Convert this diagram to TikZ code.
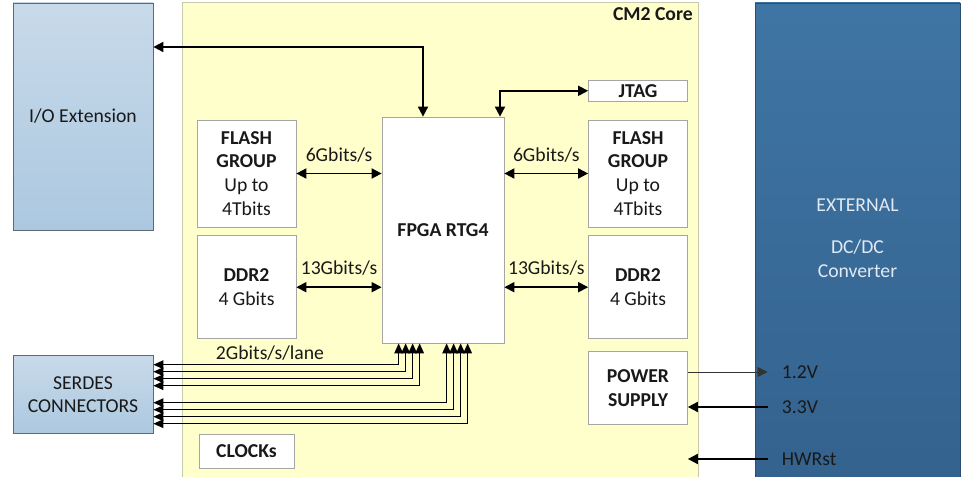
\documentclass[tikz,border=0pt]{standalone}
\usepackage{fontspec}
\setmainfont{Carlito}
\usepackage{xcolor}
\usetikzlibrary{arrows.meta, positioning, calc}
\definecolor{coreYellow}{RGB}{255,255,204}
\definecolor{coreEdge}{RGB}{200,200,170}
\definecolor{ioTop}{RGB}{200,218,234}
\definecolor{ioBottom}{RGB}{172,200,224}
\definecolor{ioEdge}{RGB}{95,105,115}
\definecolor{extTop}{RGB}{63,117,164}
\definecolor{extBottom}{RGB}{52,98,142}
\definecolor{extText}{RGB}{225,233,242}
\definecolor{boxEdge}{RGB}{165,165,165}
\definecolor{darkText}{RGB}{25,25,25}
\tikzset{
    every node/.style={font=\fontsize{11.2}{13.6}\selectfont, text=darkText},
    corebox/.style={
        rectangle,
        draw=coreEdge,
        fill=coreYellow,
        minimum width=10.32cm,
        minimum height=9.66cm
    },
    sidebox/.style={
        rectangle,
        draw=ioEdge,
        top color=ioTop,
        bottom color=ioBottom,
        align=center,
        minimum width=2.8cm
    },
    extbox/.style={
        rectangle,
        top color=extTop,
        bottom color=extBottom,
        draw=extBottom!80!black,
        minimum width=4.1cm,
        minimum height=9.64cm
    },
    blockbox/.style={
        rectangle,
        draw=boxEdge,
        fill=white,
        align=center,
        minimum width=1.98cm,
        inner sep=2pt
    },
    busarrow/.style={{Triangle[length=2mm, width=2mm]}-{Triangle[length=2mm, width=2mm]}, line width=1pt, draw=black},
    lanearrow/.style={{Triangle[length=2mm, width=1.7mm]}-{Triangle[length=2mm, width=1.7mm]}, line width=0.9pt, draw=black},
    inarrow/.style={-{Triangle[length=2mm, width=2mm]}, line width=1pt, draw=black},
    thinarrow/.style={-{Triangle[length=2mm, width=2mm]}, line width=0.5pt, draw=black!80},
    ratelabel/.style={above=5pt, inner sep=1pt},
    extlabel/.style={anchor=west, inner xsep=8pt}
}
\begin{document}
\begin{tikzpicture}
    \useasboundingbox (0,0) rectangle (19.3,-9.54);
    % containers
    \node[corebox] (core) at (8.8,-4.87) {};
    \node[anchor=north east, inner sep=3pt, font=\fontsize{11.2}{13.6}\selectfont\bfseries] (corelbl) at (core.north east) {CM2 Core};
    \node[sidebox, minimum height=4.54cm] (io) at (1.66,-2.33) {I/O Extension};
    \node[sidebox, minimum height=1.56cm, below=2.5cm of io] (serdes) {SERDES\\CONNECTORS};
    \node[extbox] (ext) at (17.15,-4.88) {};
    \node[align=center, text=extText] (exttxt) at (17.15,-4.76) {EXTERNAL\\[3.6mm]DC/DC\\Converter};

    % blocks inside the core
    \node[blockbox, minimum width=2.44cm, minimum height=4.52cm, font=\fontsize{11.2}{13.6}\selectfont\bfseries] (fpga) at (8.86,-4.6) {FPGA RTG4};
    \node[blockbox, minimum height=2.14cm] (flashl) at (4.93,-3.47) {\textbf{FLASH}\\\textbf{GROUP}\\Up to\\4Tbits};
    \node[blockbox, minimum height=2.06cm, below=0.16cm of flashl] (ddrl) {\textbf{DDR2}\\4 Gbits};
    \node[blockbox, minimum height=2.14cm] (flashr) at (12.76,-3.47) {\textbf{FLASH}\\\textbf{GROUP}\\Up to\\4Tbits};
    \node[blockbox, minimum height=2.06cm, below=0.16cm of flashr] (ddrr) {\textbf{DDR2}\\4 Gbits};
    \node[blockbox, minimum height=0.42cm, inner sep=1pt, above=0.36cm of flashr, font=\fontsize{11.2}{13.6}\selectfont\bfseries] (jtag) {JTAG};
    \node[blockbox, minimum height=1.46cm, below=0.24cm of ddrr, font=\fontsize{11.2}{13.6}\selectfont\bfseries] (power) {POWER\\SUPPLY};
    \node[blockbox, minimum width=1.9cm, minimum height=0.68cm, font=\fontsize{11.2}{13.6}\selectfont\bfseries] (clocks) at (4.93,-9.02) {CLOCKs};

    % buses to the memories
    \draw[busarrow] (flashl.east) -- node[ratelabel]{6Gbits/s} (fpga.west |- flashl.east);
    \draw[busarrow] (ddrl.east) -- node[ratelabel]{13Gbits/s} (fpga.west |- ddrl.east);
    \draw[busarrow] (fpga.east |- flashr.west) -- node[ratelabel]{6Gbits/s} (flashr.west);
    \draw[busarrow] (fpga.east |- ddrr.west) -- node[ratelabel]{13Gbits/s} (ddrr.west);

    % I/O and JTAG
    \coordinate (iobend) at (8.46,-0.94);
    \coordinate (jtagdrop) at (10.0,-1.83);
    \draw[busarrow] (io.east |- iobend) -| (fpga.north -| iobend);
    \draw[busarrow] (jtag.west) -| (fpga.north -| jtagdrop);

    % serdes lanes
    \foreach \i in {0,...,3} {
        \draw[lanearrow] ($(fpga.south west)+({0.34+0.14*\i},0)$) |- ($(serdes.east)+(0,{0.6-0.14*\i})$);
        \draw[lanearrow] ($(fpga.south west)+({1.30+0.14*\i},0)$) |- ($(serdes.east)+(0,{-0.16-0.14*\i})$);
    }
    \node[inner sep=1pt] (lanelbl) at (5.4,-7.06) {2Gbits/s/lane};

    % power and reset
    \node[extlabel] (v12) at (15.35,-7.44) {1.2V};
    \node[extlabel] (v33) at (15.35,-8.14) {3.3V};
    \node[extlabel] (hwrst) at (15.35,-9.18) {HWRst};
    \draw[thinarrow] (power.east |- v12) -- (v12.west);
    \draw[inarrow] (v33.west) -- (power.east |- v33);
    \draw[inarrow] (hwrst.west) -- (power.east |- hwrst);
\end{tikzpicture}
\end{document}
